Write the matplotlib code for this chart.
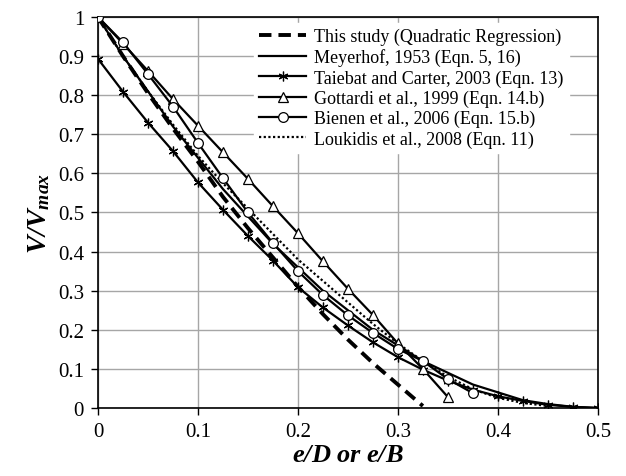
import matplotlib
matplotlib.use('Agg')
import matplotlib.pyplot as plt

plt.rcParams['font.family'] = ['Liberation Serif', 'DejaVu Serif']
plt.rcParams['mathtext.fontset'] = 'custom'
plt.rcParams['mathtext.rm'] = 'Liberation Serif'
plt.rcParams['mathtext.it'] = 'Liberation Serif:italic'
plt.rcParams['mathtext.bf'] = 'Liberation Serif:bold'
plt.rcParams['mathtext.bfit'] = 'Liberation Serif:bold:italic'

# This study (quadratic regression)
x_study = [0, 0.025, 0.05, 0.075, 0.1, 0.125, 0.15, 0.175, 0.2, 0.225, 0.25, 0.275, 0.3, 0.325]
y_study = [1.0, 0.90, 0.805, 0.715, 0.63, 0.54, 0.46, 0.385, 0.31, 0.24, 0.175, 0.115, 0.06, 0.005]

# Meyerhof 1953
x_mey = [0, 0.025, 0.05, 0.075, 0.1, 0.125, 0.15, 0.175, 0.2, 0.225, 0.25, 0.275, 0.3,
         0.325, 0.35, 0.375, 0.4, 0.425, 0.45, 0.475, 0.5]
y_mey = [1.0, 0.90, 0.81, 0.72, 0.64, 0.56, 0.49, 0.42, 0.36, 0.30, 0.25, 0.20, 0.16,
         0.12, 0.09, 0.06, 0.04, 0.02, 0.01, 0.003, 0.0]

# Taiebat and Carter 2003
x_tai = [0, 0.025, 0.05, 0.075, 0.1, 0.125, 0.15, 0.175, 0.2, 0.225, 0.25, 0.275, 0.3,
         0.325, 0.35, 0.375, 0.4, 0.425, 0.45, 0.475, 0.5]
y_tai = [0.893, 0.809, 0.73, 0.657, 0.577, 0.507, 0.44, 0.377, 0.309, 0.257, 0.211, 0.168, 0.13,
         0.098, 0.07, 0.047, 0.03, 0.018, 0.008, 0.003, 0.0]

# Gottardi et al. 1999
x_got = [0, 0.025, 0.05, 0.075, 0.1, 0.125, 0.15, 0.175, 0.2, 0.225, 0.25, 0.275, 0.3, 0.325, 0.35]
y_got = [1.0, 0.932, 0.862, 0.79, 0.722, 0.654, 0.586, 0.516, 0.447, 0.375, 0.305, 0.238, 0.165, 0.1, 0.028]

# Bienen et al. 2006
x_bie = [0, 0.025, 0.05, 0.075, 0.1, 0.125, 0.15, 0.175, 0.2, 0.225, 0.25, 0.275, 0.3, 0.325, 0.35, 0.375]
y_bie = [1.0, 0.935, 0.854, 0.771, 0.678, 0.588, 0.5, 0.422, 0.35, 0.289, 0.237, 0.192, 0.151, 0.12, 0.074, 0.038]

# Loukidis et al. 2008
x_lou = [0, 0.025, 0.05, 0.075, 0.1, 0.125, 0.15, 0.175, 0.2, 0.225, 0.25, 0.275, 0.3,
         0.325, 0.35, 0.375, 0.4, 0.425, 0.45]
y_lou = [1.0, 0.90, 0.81, 0.725, 0.645, 0.575, 0.51, 0.445, 0.38, 0.325, 0.27, 0.215, 0.165,
         0.12, 0.08, 0.048, 0.026, 0.013, 0.005]

x_ticks = [0, 0.1, 0.2, 0.3, 0.4, 0.5]
x_ticklabels = ['0', '0.1', '0.2', '0.3', '0.4', '0.5']
y_ticks = [0, 0.1, 0.2, 0.3, 0.4, 0.5, 0.6, 0.7, 0.8, 0.9, 1.0]
y_ticklabels = ['0', '0.1', '0.2', '0.3', '0.4', '0.5', '0.6', '0.7', '0.8', '0.9', '1']

fig = plt.figure(figsize=(6.26, 4.77), dpi=100)
ax = fig.add_axes([0.1565, 0.1426, 0.7985, 0.8197])

lw = 1.6
ax.plot(x_study, y_study, color='black', linestyle=(0, (3.2, 1.8)), linewidth=2.8,
        label='This study (Quadratic Regression)', zorder=3)
ax.plot(x_mey, y_mey, color='black', linewidth=lw, label='Meyerhof, 1953 (Eqn. 5, 16)', zorder=3)
ax.plot(x_tai, y_tai, color='black', linewidth=lw, marker=(6, 2, 0), markersize=7,
        markeredgewidth=0.9, label='Taiebat and Carter, 2003 (Eqn. 13)', zorder=3)
ax.plot(x_got, y_got, color='black', linewidth=lw, marker='^', markersize=6.5,
        markerfacecolor='white', markeredgewidth=0.9,
        label='Gottardi et al., 1999 (Eqn. 14.b)', zorder=4)
ax.plot(x_bie, y_bie, color='black', linewidth=lw, marker='o', markersize=7,
        markerfacecolor='white', markeredgewidth=0.9,
        label='Bienen et al., 2006 (Eqn. 15.b)', zorder=4)
ax.plot(x_lou, y_lou, color='black', linewidth=1.6, linestyle=(0, (1, 1.1)),
        label='Loukidis et al., 2008 (Eqn. 11)', zorder=3)

ax.set_xlim(0, 0.5)
ax.set_ylim(0, 1.0)
ax.set_xticks(x_ticks)
ax.set_xticklabels(x_ticklabels)
ax.set_yticks(y_ticks)
ax.set_yticklabels(y_ticklabels)
ax.tick_params(direction='out', length=5, width=1, labelsize=15, pad=5)
ax.grid(True, color='#a6a6a6', linewidth=1.0)
ax.set_axisbelow(True)
for s in ax.spines.values():
    s.set_linewidth(1.2)
    s.set_color('black')

ax.set_xlabel(r'$\mathbfit{e/D\ or\ e/B}$', fontsize=19, labelpad=2)
ax.set_ylabel(r'$\mathbfit{V/V_{max}}$', fontsize=20, labelpad=4)

leg = ax.legend(loc='upper right', bbox_to_anchor=(0.95, 0.995), frameon=True, fontsize=13,
                handlelength=2.6, handletextpad=0.45, labelspacing=0.17, borderpad=0.3,
                borderaxespad=0.2)
leg.get_frame().set_edgecolor('white')
leg.get_frame().set_facecolor('white')
leg.get_frame().set_alpha(1.0)
leg.get_frame().set_boxstyle('square', pad=0)

fig.savefig('out.png', dpi=100)
